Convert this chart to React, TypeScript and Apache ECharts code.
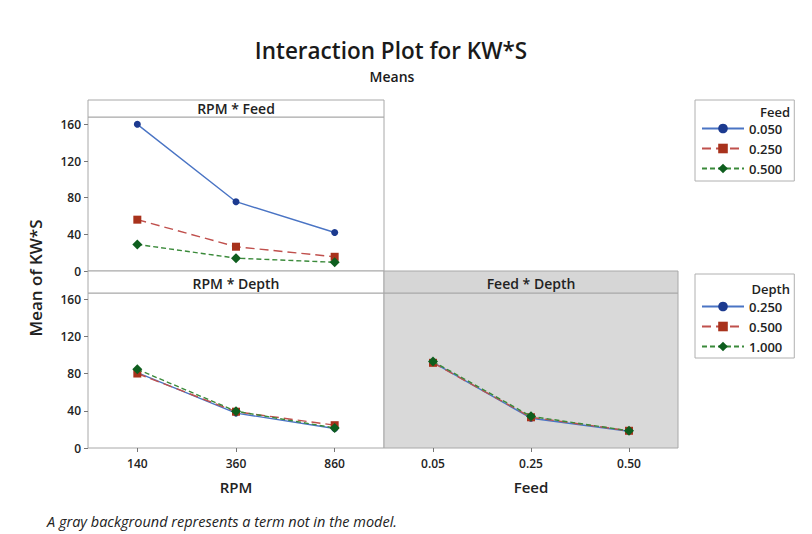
import React, { useEffect, useRef } from "react";
import * as echarts from "echarts";

const rpmLevels = ["140", "360", "860"];
const feedLevels = ["0.05", "0.25", "0.50"];
const feedLegend = ["0.050", "0.250", "0.500"];
const depthLegend = ["0.250", "0.500", "1.000"];
const yTicks = [0, 40, 80, 120, 160];

// RPM * Feed panel (one array per Feed level)
const rpmFeed050 = [160, 75.6, 42];
const rpmFeed250 = [56, 26.5, 15.5];
const rpmFeed500 = [29, 14, 9.5];

// RPM * Depth panel (one array per Depth level)
const rpmDepth025 = [81, 37.5, 21];
const rpmDepth050 = [80, 39, 24.5];
const rpmDepth100 = [84.5, 39.5, 21.5];

// Feed * Depth panel (one array per Depth level)
const feedDepth025 = [92, 32, 18];
const feedDepth050 = [91.5, 33, 18.5];
const feedDepth100 = [93, 34, 18.5];

const FONT = "'Open Sans', 'Noto Sans', sans-serif";

const styles = [
  { line: "#4a74c4", mark: "#1c3a8f", symbol: "circle", size: 7, dash: "solid" as any },
  { line: "#c0504d", mark: "#a8321c", symbol: "rect", size: 8, dash: [9, 5] },
  { line: "#3a8a3a", mark: "#0e5e1e", symbol: "diamond", size: 10, dash: [5, 3] },
];

function mk(name: string, data: number[], i: number, ax: number) {
  const s = styles[i];
  return {
    type: "line",
    name,
    data,
    xAxisIndex: ax,
    yAxisIndex: ax,
    symbol: s.symbol,
    symbolSize: s.size,
    showSymbol: true,
    itemStyle: { color: s.mark },
    lineStyle: { color: s.line, width: 1.4, type: s.dash },
    z: 3 + i,
  };
}

export default function App() {
  const ref = useRef<HTMLDivElement>(null);
  useEffect(() => {
    if (!ref.current) return;
    const chart = echarts.init(ref.current, undefined, { renderer: "svg" });
    const axisLabelStyle = { fontSize: 12, fontWeight: 600, color: "#222", fontFamily: FONT };
    const feedNames = feedLegend.map((v) => "Feed " + v);
    const depthNames = depthLegend.map((v) => "Depth " + v);
    const legendCommon = {
      orient: "vertical",
      left: 695,
      itemWidth: 42,
      itemHeight: 12,
      itemGap: 7,
      borderColor: "#b0b0b0",
      borderWidth: 1,
      selectedMode: false,
      formatter: (n: string) => n.split(" ")[1],
      textStyle: { fontSize: 13, fontWeight: 600, color: "#222", fontFamily: FONT },
    };
    const yAxisCommon = (showLabels: boolean, max: number, gi: number) => ({
      type: "value",
      gridIndex: gi,
      min: 0,
      max,
      axisLine: { show: false },
      splitLine: { show: false },
      axisTick: { show: showLabels, length: 4, lineStyle: { color: "#777" }, customValues: yTicks },
      axisLabel: { show: showLabels, margin: 7, ...axisLabelStyle, customValues: yTicks },
    });
    const xAxisCommon = (cats: string[], gi: number, showLabels: boolean, name: string) => ({
      type: "category",
      gridIndex: gi,
      data: cats,
      boundaryGap: true,
      axisLine: { show: false },
      axisTick: { show: showLabels, alignWithLabel: true, length: 4, lineStyle: { color: "#777" } },
      axisLabel: { show: showLabels, margin: 9, ...axisLabelStyle },
      name,
      nameLocation: "middle",
      nameGap: 31,
      nameTextStyle: { fontSize: 15, fontWeight: 600, color: "#222", fontFamily: FONT },
    });
    const hdr = (x: number, y: number, text: string) => ({
      type: "text",
      x,
      y,
      style: { text, fontSize: 14, fontWeight: 600, fill: "#222", align: "center", verticalAlign: "middle", fontFamily: FONT },
      z: 11,
    });
    chart.setOption({
      animation: false,
      backgroundColor: "#ffffff",
      textStyle: { fontFamily: FONT },
      title: [
        {
          text: "Interaction Plot for KW*S",
          left: 386,
          top: 34,
          textAlign: "center",
          textStyle: { fontSize: 22.5, fontWeight: 600, color: "#1a1a1a", fontFamily: FONT },
        },
        {
          text: "Means",
          left: 387,
          top: 64,
          textAlign: "center",
          textStyle: { fontSize: 14, fontWeight: 600, color: "#1a1a1a", fontFamily: FONT },
        },
      ],
      grid: [
        { left: 88, top: 117, width: 296, height: 154, show: true, borderColor: "#a8a8a8", borderWidth: 1, backgroundColor: "#ffffff" },
        { left: 88, top: 293, width: 296, height: 155, show: true, borderColor: "#a8a8a8", borderWidth: 1, backgroundColor: "#ffffff" },
        { left: 384, top: 293, width: 294, height: 155, show: true, borderColor: "#a8a8a8", borderWidth: 1, backgroundColor: "#d9d9d9" },
      ],
      xAxis: [
        xAxisCommon(rpmLevels, 0, false, ""),
        xAxisCommon(rpmLevels, 1, true, "RPM"),
        xAxisCommon(feedLevels, 2, true, "Feed"),
      ],
      yAxis: [yAxisCommon(true, 168, 0), yAxisCommon(true, 166.5, 1), yAxisCommon(false, 166.5, 2)],
      legend: [
        { ...legendCommon, top: 100, padding: [22, 12, 6, 6], data: feedNames },
        { ...legendCommon, top: 274, padding: [26, 12, 5, 6], data: depthNames },
      ],
      series: [
        mk(feedNames[0], rpmFeed050, 0, 0),
        mk(feedNames[1], rpmFeed250, 1, 0),
        mk(feedNames[2], rpmFeed500, 2, 0),
        mk(depthNames[0], rpmDepth025, 0, 1),
        mk(depthNames[1], rpmDepth050, 1, 1),
        mk(depthNames[2], rpmDepth100, 2, 1),
        mk(depthNames[0], feedDepth025, 0, 2),
        mk(depthNames[1], feedDepth050, 1, 2),
        mk(depthNames[2], feedDepth100, 2, 2),
      ],
      graphic: [
        { type: "rect", shape: { x: 88, y: 100, width: 296, height: 17 }, style: { fill: "#ffffff", stroke: "#a8a8a8", lineWidth: 1 }, z: 10 },
        hdr(236, 108.5, "RPM * Feed"),
        { type: "rect", shape: { x: 88, y: 271, width: 296, height: 22 }, style: { fill: "#ffffff", stroke: "#a8a8a8", lineWidth: 1 }, z: 10 },
        hdr(236, 283, "RPM * Depth"),
        { type: "rect", shape: { x: 384, y: 271, width: 294, height: 22 }, style: { fill: "#d6d6d6", stroke: "#a8a8a8", lineWidth: 1 }, z: 10 },
        hdr(531, 283, "Feed * Depth"),
        { type: "text", x: 790, y: 112, style: { text: "Feed", fontSize: 13, fontWeight: 600, fill: "#222", align: "right", verticalAlign: "middle", fontFamily: FONT }, z: 11 },
        { type: "text", x: 790, y: 289, style: { text: "Depth", fontSize: 13, fontWeight: 600, fill: "#222", align: "right", verticalAlign: "middle", fontFamily: FONT }, z: 11 },
        { type: "text", x: 35, y: 278, rotation: Math.PI / 2, style: { text: "Mean of KW*S", fontSize: 17, fontWeight: 600, fill: "#222", align: "center", verticalAlign: "middle", fontFamily: FONT }, z: 11 },
        { type: "text", x: 47, y: 521, style: { text: "A gray background represents a term not in the model.", fontSize: 14.5, fontStyle: "italic", fill: "#222", align: "left", verticalAlign: "middle", fontFamily: FONT }, z: 11 },
      ],
    });
    return () => chart.dispose();
  }, []);
  return (
    <div
      ref={ref}
      style={{ position: "fixed", left: 0, top: 0, width: 812, height: 534, background: "#fff" }}
    />
  );
}
